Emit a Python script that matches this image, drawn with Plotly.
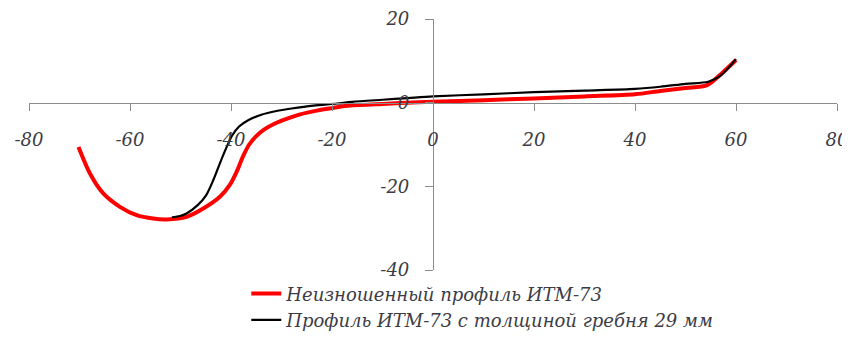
import plotly.graph_objects as go

# Red: unworn profile ITM-73
red_x = [-70.2, -67.9, -65.3, -62.0, -58.7, -55.4, -52.7, -48.8, -45.5, -42.2, -40.2,
         -38.8, -37.6, -36.4, -35.0, -33.4, -31.5, -29.0, -26.3, -23.0, -19.0, -16.4,
         -10.0, -6.5, 0.0, 10.0, 20.0, 30.0, 40.0, 45.0, 50.0, 54.3, 57.0, 60.0]
red_y = [-10.6, -17.0, -21.7, -24.9, -26.9, -27.7, -27.9, -27.3, -25.3, -22.5, -19.6,
         -16.3, -12.8, -10.0, -8.0, -6.4, -5.1, -3.9, -2.8, -1.9, -1.1, -0.7,
         -0.3, -0.1, 0.2, 0.6, 1.0, 1.5, 2.0, 2.8, 3.5, 4.2, 6.8, 10.2]

# Black: ITM-73 profile with 29 mm flange thickness
blk_x = [-51.7, -50.1, -48.8, -46.6, -45.0, -43.5, -42.2, -41.0, -39.8, -38.4, -36.6,
         -34.0, -31.0, -28.0, -23.7, -19.0, -16.0, -10.0, -5.0, 0.0, 10.0, 20.0, 30.0,
         40.0, 45.0, 50.0, 54.5, 56.9, 60.0]
blk_y = [-27.4, -27.1, -26.5, -24.5, -22.3, -18.5, -14.5, -11.0, -7.9, -5.7, -4.2,
         -2.9, -2.0, -1.4, -0.7, -0.2, 0.2, 0.7, 1.1, 1.5, 2.0, 2.5, 2.9,
         3.3, 3.8, 4.5, 5.0, 6.4, 10.4]

x_ticks = [-80, -60, -40, -20, 0, 20, 40, 60, 80]
y_ticks = [-40, -20, 0, 20]

names = ["Неизношенный профиль ИТМ-73", "Профиль ИТМ-73 с толщиной гребня 29 мм"]

font_fam = "DejaVu Serif, Liberation Serif, serif"
text_color = "#3c3c46"
tick_font = dict(family=font_fam, size=18, color=text_color, style="italic")

fig = go.Figure()
fig.add_trace(go.Scatter(x=red_x, y=red_y, mode="lines", name=names[0],
                         line=dict(color="#FF0000", width=4, shape="spline", smoothing=0.8)))
fig.add_trace(go.Scatter(x=blk_x, y=blk_y, mode="lines", name=names[1],
                         line=dict(color="#000000", width=2.2, shape="spline", smoothing=0.8)))

fig.update_layout(
    width=842, height=330,
    margin=dict(l=21, r=13, t=11, b=68, autoexpand=False),
    paper_bgcolor="white", plot_bgcolor="white",
    showlegend=True,
    legend=dict(xref="container", yref="container", x=0.283, y=0.19,
                xanchor="left", yanchor="top", orientation="v",
                font=dict(family=font_fam, size=18, color=text_color, style="italic"),
                bgcolor="rgba(0,0,0,0)", tracegroupgap=0),
    xaxis=dict(range=[-80, 80], domain=[0, 1], tickvals=x_ticks,
               ticktext=[str(v) for v in x_ticks], tickangle=0,
               anchor="free", position=40 / 60, showline=True, linecolor="#8c8c8c",
               linewidth=1.2, ticks="outside", ticklen=7, tickcolor="#8c8c8c",
               showgrid=False, zeroline=False, tickfont=tick_font, ticklabelstandoff=14,
               ticklabeloverflow="allow", automargin=False),
    yaxis=dict(range=[-40, 20], domain=[0, 1], tickvals=y_ticks,
               ticktext=[str(v) for v in y_ticks],
               anchor="free", position=0.5, showline=True, linecolor="#8c8c8c",
               linewidth=1.2, ticks="outside", ticklen=8, tickcolor="#8c8c8c",
               showgrid=False, zeroline=False, tickfont=tick_font, ticklabelstandoff=12,
               ticklabeloverflow="allow", automargin=False),
)

fig.write_html("out.html")
